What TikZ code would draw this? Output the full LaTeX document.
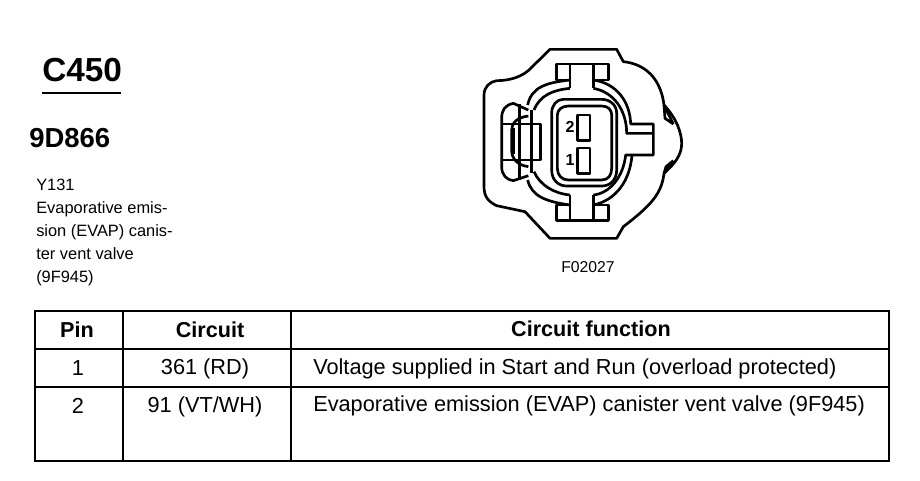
\documentclass[tikz,border=0pt]{standalone}
\usepackage{fontspec}
\setmainfont{Liberation Sans}
\tikzset{
 outline/.style={black, line width=2pt, line join=round},
 rule/.style={black, line width=2.1pt},
 headtext/.style={font=\fontsize{16.2}{18}\selectfont\bfseries, inner sep=0},
 celltext/.style={font=\fontsize{16.3}{18}\selectfont, inner sep=0},
 smalltext/.style={font=\fontsize{12.3}{17.2}\selectfont, inner sep=0, align=left},
}
\begin{document}
\begin{tikzpicture}[x=.75pt, y=-.75pt]
\useasboundingbox (0,0) rectangle (920,480);
\node[headtext, font=\fontsize{25}{27}\selectfont\bfseries, anchor=west] (conn) at (42,70) {C450};
\draw[black, line width=1.1pt] (42,93) -- (121,93);
\node[headtext, font=\fontsize{20.6}{22}\selectfont\bfseries, anchor=west] (part) at (29,138) {9D866};
\node[smalltext, anchor=north west] (desc) at (36,179) {Y131\\Evaporative emis-\\sion (EVAP) canis-\\ter vent valve\\(9F945)};
\node[smalltext, font=\fontsize{11.8}{14}\selectfont] (fig) at (588,267) {F02027};
% connector body
\begin{scope}[shift={(460,30)}, x=.25pt, y=-.25pt]
\draw[outline] (270,58) -- (470,58) -- (490,95) .. controls (540,100) and (600,130) .. (612,225)
 .. controls (650,265) and (665,310) .. (665,340) .. controls (665,375) and (645,400) .. (612,430)
 .. controls (605,490) and (575,525) .. (490,590) -- (470,625) -- (270,625) -- (195,545) -- (110,527)
 .. controls (85,515) and (72,500) .. (72,470) -- (72,195) .. controls (72,170) and (90,155) .. (110,152)
 .. controls (150,152) and (190,140) .. (215,112) -- cycle;
\draw[outline] (612,225) -- (640,282) (612,225) -- (615,265) -- (640,282);
\draw[outline] (612,430) -- (640,392) (612,430) -- (618,410) -- (640,392);
% keys top and bottom
\draw[outline] (330,150) -- (290,150) -- (290,102) -- (445,102) -- (445,150) -- (400,150);
\draw[outline] (330,102) -- (330,175) (400,102) -- (400,175);
\draw[outline] (330,525) -- (290,525) -- (290,572) -- (445,572) -- (445,525) -- (400,525);
\draw[outline] (330,572) -- (330,495) (400,572) -- (400,495);
% shroud
\draw[outline] (330,150) .. controls (260,158) and (215,170) .. (203,225);
\draw[outline] (330,175) .. controls (280,180) and (240,195) .. (222,240);
\draw[outline] (400,150) .. controls (470,160) and (510,215) .. (512,282) -- (580,282) -- (580,375) -- (497,375)
 .. controls (490,440) and (450,490) .. (400,495);
\draw[outline] (400,175) .. controls (460,185) and (500,240) .. (500,310) -- (580,310);
\draw[outline] (516,375) .. controls (510,450) and (470,510) .. (400,525);
\draw[outline] (330,495) .. controls (280,490) and (240,465) .. (222,425);
\draw[outline] (330,525) .. controls (260,515) and (215,500) .. (203,450);
% latch
\draw[outline] (205,240) -- (160,220) .. controls (135,225) and (125,240) .. (125,265) -- (125,410)
 .. controls (125,435) and (140,450) .. (160,452) -- (205,437);
\draw[outline] (215,240) -- (215,430) (178,222) -- (178,450);
\draw[outline] (205,258) .. controls (170,262) and (155,280) .. (155,300) -- (155,360) .. controls (155,385) and (170,405) .. (205,410);
\draw[outline] (130,282) -- (242,282) -- (242,390) -- (130,390);
\draw[black, line width=3pt] (160,295) -- (160,372);
% housing and pins
\draw[outline] (310,208) -- (425,208) .. controls (450,208) and (470,225) .. (470,250) -- (470,420)
 .. controls (470,450) and (450,468) .. (425,468) -- (320,468) .. controls (295,468) and (275,450) .. (275,420)
 -- (275,250) .. controls (275,225) and (290,208) .. (310,208) -- cycle;
\draw[outline] (325,228) -- (425,228) .. controls (445,228) and (455,240) .. (455,255) -- (455,415)
 .. controls (455,435) and (445,450) .. (425,450) -- (325,450) .. controls (305,450) and (292,435) .. (292,415)
 -- (292,255) .. controls (292,240) and (305,228) .. (325,228) -- cycle;
\draw[outline] (352,255) rectangle (390,332);
\draw[outline] (352,354) rectangle (390,430);
\end{scope}
\node[celltext, font=\fontsize{12}{14}\selectfont\bfseries] (pintwo) at (570,127) {2};
\node[celltext, font=\fontsize{12}{14}\selectfont\bfseries] (pinone) at (570,160) {1};
% table
\draw[rule] (35,311) rectangle (889,461);
\draw[rule] (35,349) -- (889,349);
\draw[rule] (35,387) -- (889,387);
\foreach \x in {123,291} {
 \draw[rule] (\x,311) -- (\x,461);
}
\node[headtext] (pinhead) at (77,330) {Pin};
\node[headtext] (circhead) at (210,330) {Circuit};
\node[headtext] (funchead) at (591,329) {Circuit function};
\node[celltext] (pina) at (78,368) {1};
\node[celltext] (pinb) at (78,406) {2};
\node[celltext] (circa) at (205,369) {361 (RD)};
\node[celltext] (circb) at (205,407) {91 (VT/WH)};
\node[celltext, anchor=west] (funca) at (313,369) {Voltage supplied in Start and Run (overload protected)};
\node[celltext, anchor=west] (funcb) at (313,406) {Evaporative emission (EVAP) canister vent valve (9F945)};
\end{tikzpicture}
\end{document}
